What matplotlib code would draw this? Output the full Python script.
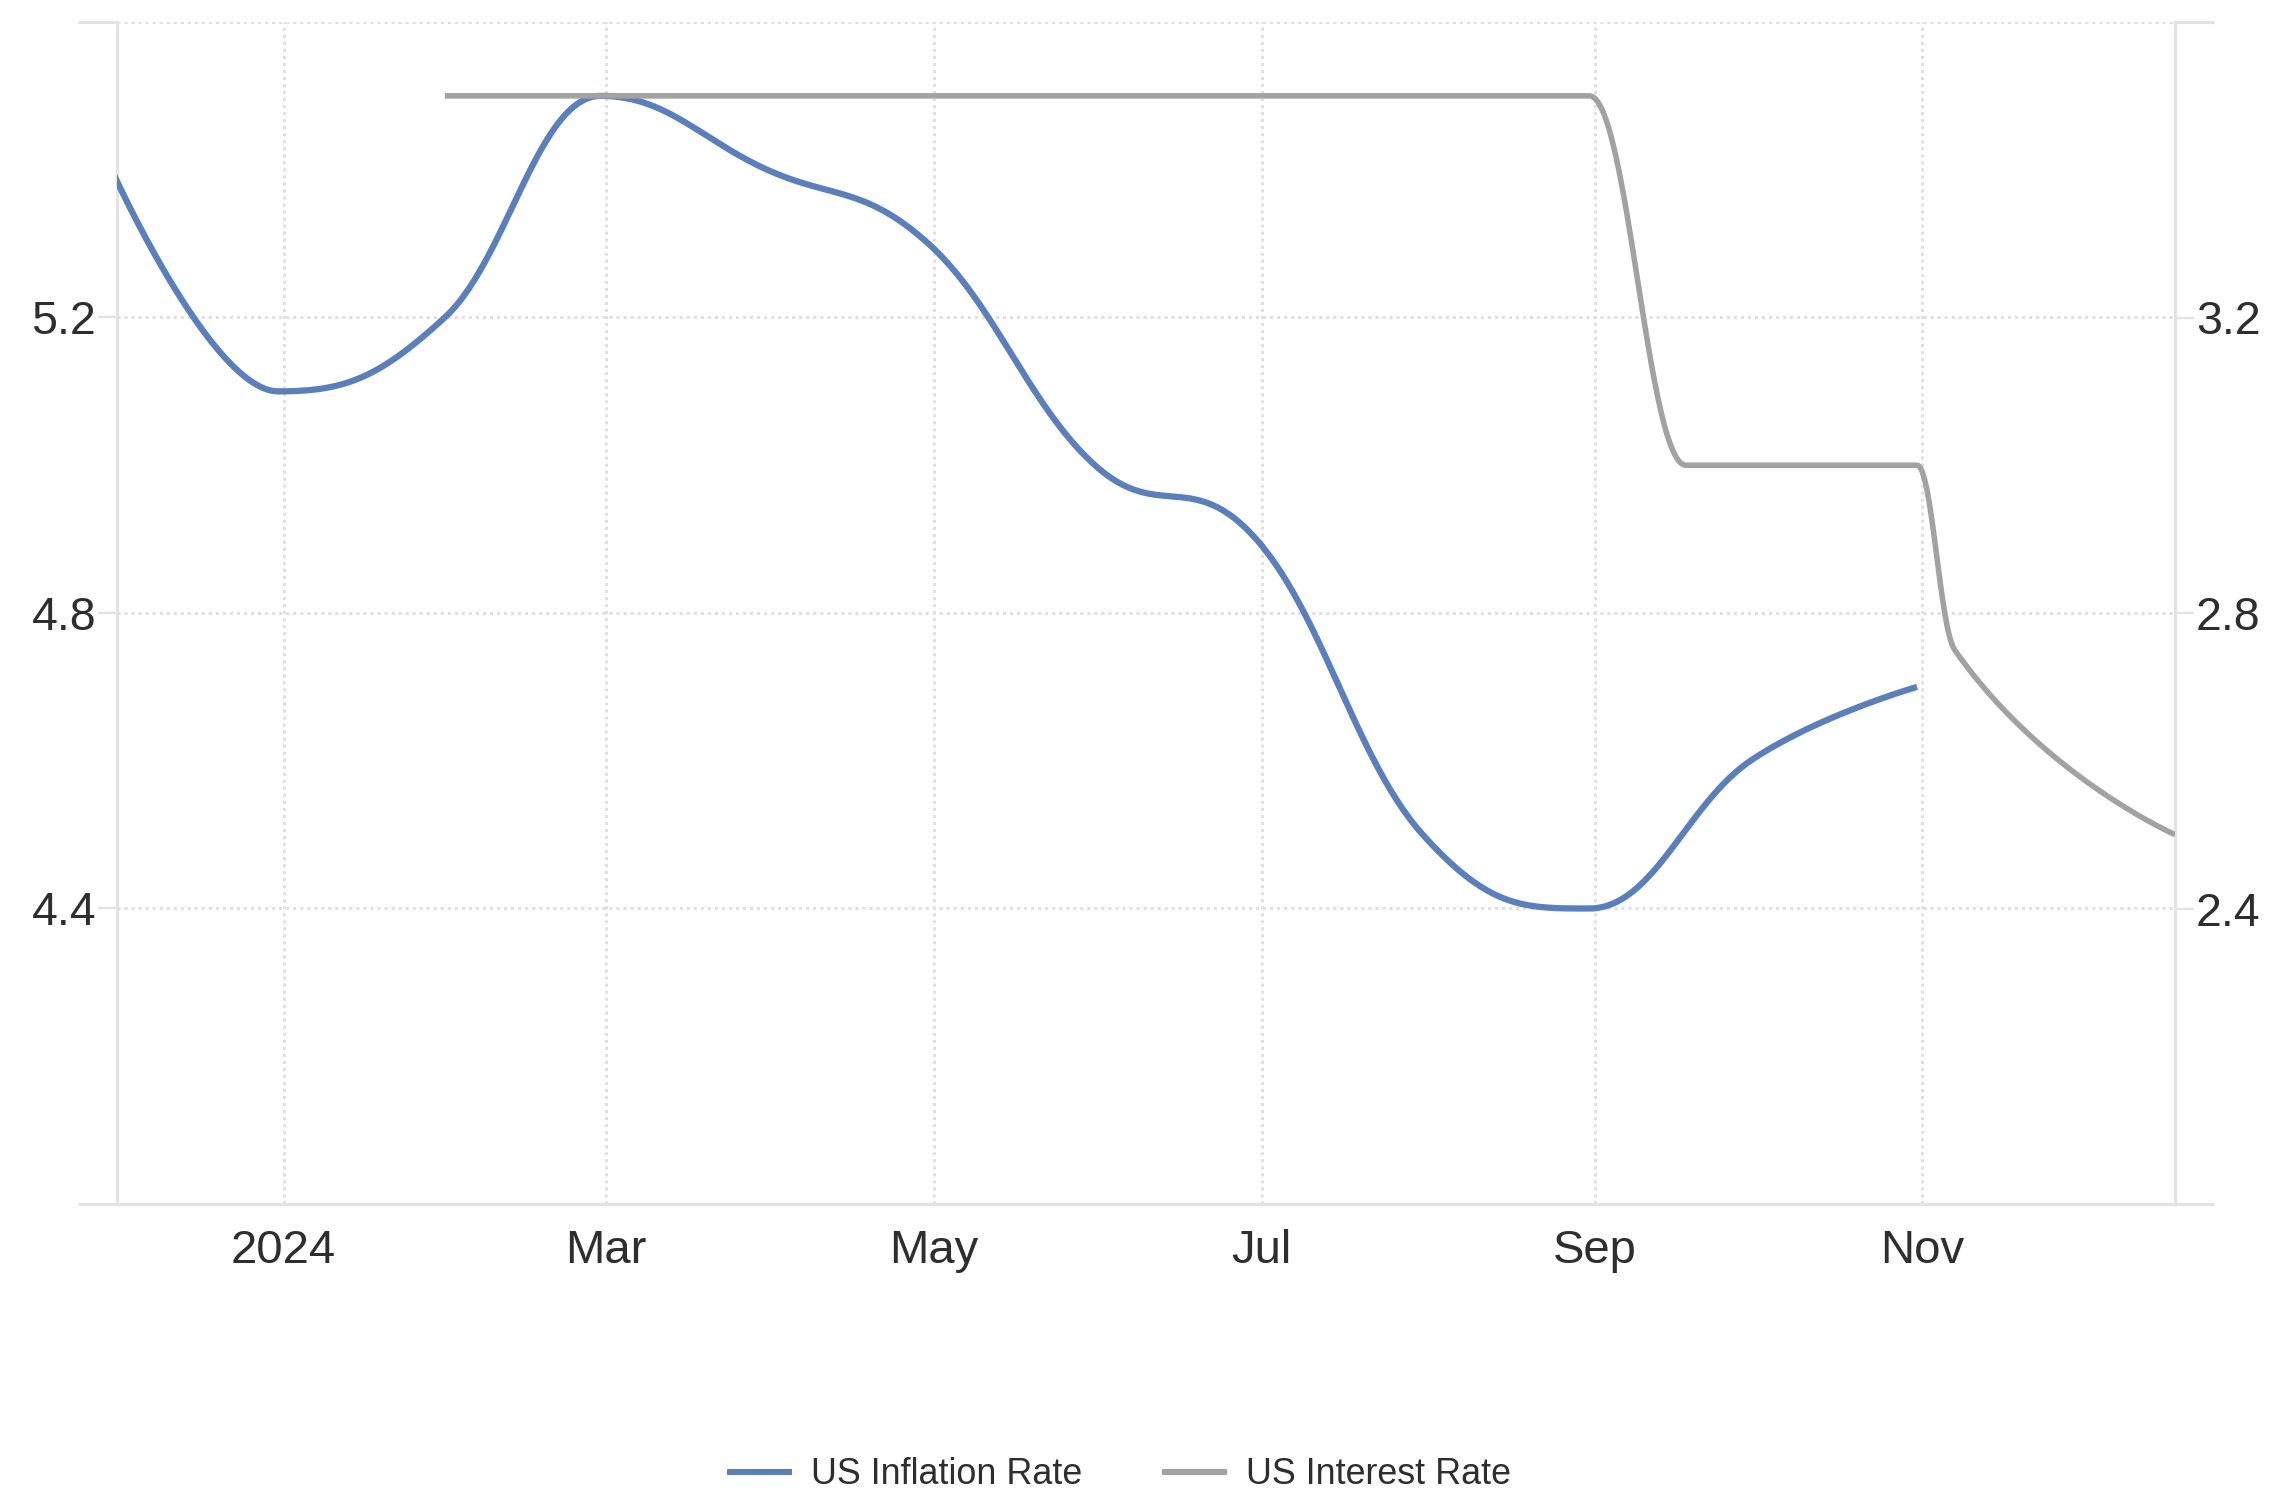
import numpy as np
import matplotlib
matplotlib.use("Agg")
import matplotlib.pyplot as plt
import matplotlib.dates as mdates
from matplotlib.lines import Line2D
import datetime as dt

# ---------------- data ----------------
inflation_dates = ["2023-11-30", "2023-12-31", "2024-01-31", "2024-02-29", "2024-03-31",
                   "2024-04-30", "2024-05-31", "2024-06-30", "2024-07-31", "2024-08-31",
                   "2024-09-30", "2024-10-31"]
inflation_values = [5.4, 5.1, 5.2, 5.5, 5.4, 5.3, 5.0, 4.9, 4.5, 4.4, 4.6, 4.7]

interest_dates = ["2024-01-31", "2024-02-29", "2024-03-31", "2024-04-30", "2024-05-31",
                  "2024-06-30", "2024-07-31", "2024-08-31", "2024-09-18", "2024-09-30",
                  "2024-10-31", "2024-11-07", "2024-12-18"]
interest_values = [3.5, 3.5, 3.5, 3.5, 3.5, 3.5, 3.5, 3.5, 3.0, 3.0, 3.0, 2.75, 2.5]

x_tick_dates = ["2024-01-01", "2024-03-01", "2024-05-01", "2024-07-01", "2024-09-01", "2024-11-01"]
x_tick_labels = ["2024", "Mar", "May", "Jul", "Sep", "Nov"]
left_ticks = [4.4, 4.8, 5.2]
right_ticks = [2.4, 2.8, 3.2]
left_range = (4.0, 5.6)
right_range = (2.0, 3.6)
x_range = ("2023-12-01", "2024-12-18")

series_names = ["US Inflation Rate", "US Interest Rate"]
BLUE = "#5a7fbb"
GRAY = "#a2a2a2"
GRID = "#e0e0e0"
TEXT = "#2e2e2e"


def to_num(ds):
    return np.array([mdates.date2num(dt.datetime.strptime(d, "%Y-%m-%d")) for d in ds])


def spline_curve(x, y, n=60, smoothing=1.5):
    """Smooth spline through the points (Highcharts-style control points)."""
    x = np.asarray(x, float)
    y = np.asarray(y, float)
    m = len(x)
    denom = smoothing + 1
    lcx, lcy = x.copy(), y.copy()
    rcx, rcy = x.copy(), y.copy()
    for i in range(1, m - 1):
        px, py = x[i], y[i]
        lx, ly = x[i - 1], y[i - 1]
        nx, ny = x[i + 1], y[i + 1]
        lcx_i = (smoothing * px + lx) / denom
        lcy_i = (smoothing * py + ly) / denom
        rcx_i = (smoothing * px + nx) / denom
        rcy_i = (smoothing * py + ny) / denom
        if rcx_i != lcx_i:
            corr = (rcy_i - lcy_i) * (rcx_i - px) / (rcx_i - lcx_i) + py - rcy_i
            lcy_i += corr
            rcy_i += corr
        if lcy_i > ly and lcy_i > py:
            lcy_i = max(ly, py)
            rcy_i = 2 * py - lcy_i
        elif lcy_i < ly and lcy_i < py:
            lcy_i = min(ly, py)
            rcy_i = 2 * py - lcy_i
        if rcy_i > ny and rcy_i > py:
            rcy_i = max(ny, py)
            lcy_i = 2 * py - rcy_i
        elif rcy_i < ny and rcy_i < py:
            rcy_i = min(ny, py)
            lcy_i = 2 * py - rcy_i
        lcx[i], lcy[i], rcx[i], rcy[i] = lcx_i, lcy_i, rcx_i, rcy_i
    t = np.linspace(0, 1, n)
    b0, b1, b2, b3 = (1 - t) ** 3, 3 * (1 - t) ** 2 * t, 3 * (1 - t) * t ** 2, t ** 3
    xs, ys = [], []
    for i in range(m - 1):
        xx = b0 * x[i] + b1 * rcx[i] + b2 * lcx[i + 1] + b3 * x[i + 1]
        yy = b0 * y[i] + b1 * rcy[i] + b2 * lcy[i + 1] + b3 * y[i + 1]
        if i > 0:
            xx, yy = xx[1:], yy[1:]
        xs.append(xx)
        ys.append(yy)
    return np.concatenate(xs), np.concatenate(ys)


plt.rcParams["font.family"] = ["Liberation Sans", "DejaVu Sans"]

W, H = 2288, 1492
fig = plt.figure(figsize=(W / 100, H / 100), dpi=100)
L, R, T, B = 117, 2175, 22, 1204
ax = fig.add_axes([L / W, 1 - B / H, (R - L) / W, (B - T) / H])
ax2 = ax.twinx()

xn0, xn1 = to_num(list(x_range))
ax.set_xlim(xn0, xn1)
ax.set_ylim(*left_range)
ax2.set_ylim(*right_range)

# grid lines
dot = (0, (1.0, 1.3))
for v in left_ticks + [left_range[1]]:
    ax.axhline(v, color=GRID, lw=2.2, ls=dot, zorder=0)
for xv in to_num(x_tick_dates):
    ax.axvline(xv, color=GRID, lw=2.2, ls=dot, zorder=0)

# spines
for a in (ax, ax2):
    a.spines["top"].set_visible(False)
    for sp in ("left", "right", "bottom"):
        a.spines[sp].set_color("#e3e3e3")
        a.spines[sp].set_linewidth(2.3)
ax2.spines["left"].set_visible(False)
ax.spines["right"].set_visible(False)

# series
xi, yi = spline_curve(to_num(inflation_dates), inflation_values)
ax.plot(xi, yi, color=BLUE, lw=4.5, solid_capstyle="butt", zorder=3)
xr, yr = spline_curve(to_num(interest_dates), interest_values)
ax2.plot(xr, yr, color=GRAY, lw=4.0, solid_capstyle="butt", zorder=3)

# ticks
ax.set_xticks(to_num(x_tick_dates))
ax.set_xticklabels(x_tick_labels)
ax.tick_params(axis="x", length=0, pad=18, labelsize=34, labelcolor=TEXT)
ax.set_yticks(left_ticks)
ax.set_yticklabels([f"{v:.1f}" for v in left_ticks])
ax.tick_params(axis="y", length=14, width=1.6, color="#e3e3e3", pad=1,
               labelsize=33.5, labelcolor=TEXT)
ax.set_yticks(list(left_range), minor=True)
ax.tick_params(axis="y", which="minor", length=28, width=2.3, color="#e3e3e3")
ax2.set_yticks(right_ticks)
ax2.set_yticklabels([f"{v:.1f}" for v in right_ticks])
ax2.tick_params(axis="y", length=14, width=1.6, color="#e3e3e3", pad=1,
                labelsize=33.5, labelcolor=TEXT)
ax2.set_yticks(list(right_range), minor=True)
ax2.tick_params(axis="y", which="minor", length=28, width=2.3, color="#e3e3e3")
ax2.set_zorder(ax.get_zorder() + 1)
ax2.patch.set_visible(False)

# legend
handles = [Line2D([], [], color=BLUE, lw=4.3), Line2D([], [], color=GRAY, lw=4.3)]
leg = fig.legend(handles, series_names, loc="center", bbox_to_anchor=(0.4897, 1 - 1475 / H),
                 ncol=2, frameon=False, fontsize=25.8, handlelength=1.65, handletextpad=0.62,
                 columnspacing=2.3, labelcolor=TEXT)

fig.savefig("out.png", dpi=100)
